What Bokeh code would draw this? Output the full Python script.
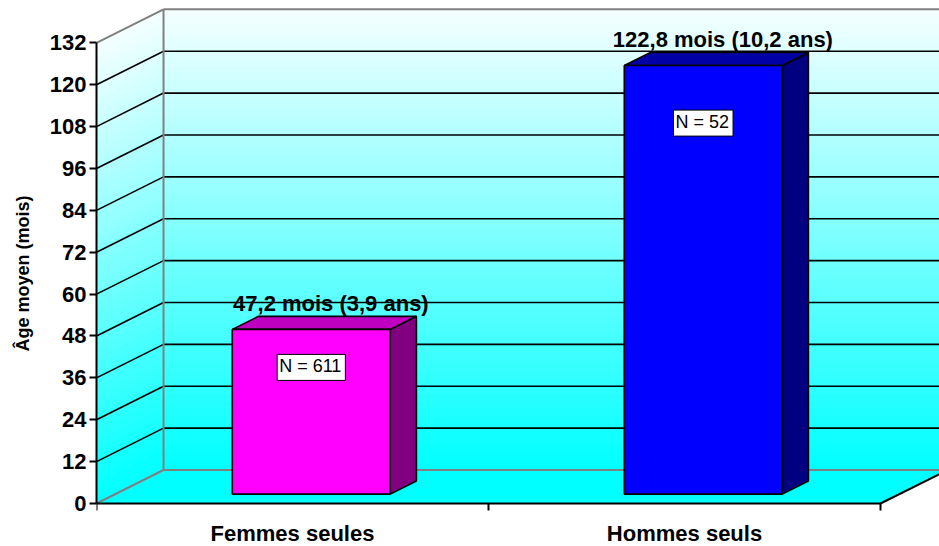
import numpy as np
from bokeh.plotting import figure
from bokeh.models import Range1d, FixedTicker, ColumnDataSource
from bokeh.embed import file_html
from bokeh.resources import INLINE
from bokeh.core.properties import value

# ---------------- data ----------------
categories = ["Femmes seules", "Hommes seuls"]
ages = [47.2, 122.8]
value_labels = ["47,2 mois (3,9 ans)", "122,8 mois (10,2 ans)"]
n_labels = ["N = 611", "N = 52"]
y_ticks = [0, 12, 24, 36, 48, 60, 72, 84, 96, 108, 120, 132]
y_title = "Âge moyen (mois)"

# ---------------- style / layout ----------------
front_colors = ["#FF00FF", "#0000FF"]
side_colors = ["#800080", "#000080"]
top_colors = ["#C000C0", "#0000A6"]
FONT = "Liberation Sans"
DX, DY = 0.171, 9.6          # 3D depth of the walls (category units, value units)
F0, BD, BW = 0.28, 0.39, 0.403  # bar depth position, bar depth, bar width
X_START, X_END = 0.0, 2.1505
Y_START, Y_END = -12.32, 144.13
N_LABEL_Y = [39.0, 109.0]
TICK_LEN = 2.0
GRAY = "#808080"

ncat = len(categories)
y_top = y_ticks[-1]
x_far = X_END + 1.0

p = figure(width=939, height=546,
           x_range=Range1d(X_START, X_END), y_range=Range1d(Y_START, Y_END),
           output_backend="svg", toolbar_location=None, x_axis_location=None,
           min_border_left=96, min_border_right=0, min_border_top=0, min_border_bottom=0)
p.grid.visible = False
p.outline_line_color = None
p.background_fill_color = "white"
p.border_fill_color = "white"

# ---------------- walls with gradient ----------------
levels = np.linspace(0, y_top, 67)
lo, hi = levels[:-1], levels[1:]
tt = (lo + hi) / 2 / y_top
grad_colors = ["#%02xffff" % int(round(245 * t)) for t in tt]

p.quad(left=DX, right=x_far, bottom=lo + DY, top=hi + DY,
       fill_color=grad_colors, line_color=grad_colors, line_width=1)
p.patches(xs=[[0, 0, DX, DX] for _ in lo],
          ys=[[a, b, b + DY, a + DY] for a, b in zip(lo, hi)],
          fill_color=grad_colors, line_color=grad_colors, line_width=1)

# floor
p.patch(x=[0, ncat, ncat + DX, DX], y=[0, 0, DY, DY], fill_color="#00FFFF", line_color=None)

# gridlines on back and side walls
inner = y_ticks[1:-1]
p.segment(x0=[DX] * len(inner), y0=[v + DY for v in inner], x1=[x_far] * len(inner),
          y1=[v + DY for v in inner], line_color="black", line_width=1.6)
p.segment(x0=[0] * len(inner), y0=inner, x1=[DX] * len(inner),
          y1=[v + DY for v in inner], line_color="black", line_width=1.6)

# gray wall edges
edges = [y_ticks[0], y_top]
p.segment(x0=[DX, DX], y0=[e + DY for e in edges], x1=[x_far, x_far], y1=[e + DY for e in edges],
          line_color=GRAY, line_width=2)
p.segment(x0=[0, 0], y0=edges, x1=[DX, DX], y1=[e + DY for e in edges],
          line_color=GRAY, line_width=2)
p.segment(x0=[DX], y0=[DY], x1=[DX], y1=[y_top + DY], line_color=GRAY, line_width=2)

# floor front and right edges
p.line(x=[0, ncat, ncat + DX], y=[0, 0, DY], line_color="black", line_width=2)

# category ticks below the floor
bounds = list(range(ncat + 1))
p.segment(x0=bounds, y0=[0] * len(bounds), x1=bounds, y1=[-TICK_LEN] * len(bounds),
          line_color="black", line_width=2)

# category labels
centers = [i + 0.5 for i in range(ncat)]
p.text(x=centers, y=[0] * ncat, text=categories, y_offset=30,
       text_align="center", text_baseline="alphabetic",
       text_font=value(FONT), text_font_style="bold", text_font_size="22px", text_color="black")

# ---------------- 3D bars ----------------
xl = [c - BW / 2 + F0 * DX for c in centers]
xr = [x + BW for x in xl]
y0 = [F0 * DY] * ncat
y1 = [F0 * DY + a for a in ages]
ddx, ddy = BD * DX, BD * DY

side_src = ColumnDataSource(dict(
    xs=[[r, r, r + ddx, r + ddx] for r in xr],
    ys=[[b, t, t + ddy, b + ddy] for b, t in zip(y0, y1)],
    color=side_colors))
top_src = ColumnDataSource(dict(
    xs=[[l, r, r + ddx, l + ddx] for l, r in zip(xl, xr)],
    ys=[[t, t, t + ddy, t + ddy] for t in y1],
    color=top_colors))
p.patches(xs="xs", ys="ys", fill_color="color", line_color="black", line_width=1.6, source=side_src)
p.patches(xs="xs", ys="ys", fill_color="color", line_color="black", line_width=1.6, source=top_src)
p.quad(left=xl, right=xr, bottom=y0, top=y1, fill_color=front_colors,
       line_color="black", line_width=1.6)

# value labels above bars
p.text(x=[l + BW / 2 + 0.75 * ddx for l in xl], y=[t + ddy for t in y1], text=value_labels,
       y_offset=-13, text_align="center", text_baseline="alphabetic",
       text_font=value(FONT), text_font_style="bold", text_font_size="22px", text_color="black")

# N labels in boxes
p.text(x=[l + BW / 2 for l in xl], y=N_LABEL_Y, text=n_labels,
       text_align="center", text_baseline="middle",
       text_font=value(FONT), text_font_size="18px", text_color="black",
       background_fill_color="white", border_line_color="black", border_line_width=1,
       padding=(2, 4, 2, 4))

# ---------------- y axis ----------------
ax = p.yaxis[0]
ax.ticker = FixedTicker(ticks=y_ticks)
ax.bounds = (y_ticks[0], y_top)
ax.axis_line_color = "black"
ax.axis_line_width = 2
ax.major_tick_out = 7
ax.major_tick_in = 0
ax.major_tick_line_width = 2
ax.minor_tick_line_color = None
ax.major_label_standoff = 3
ax.major_label_text_font = FONT
ax.major_label_text_font_style = "bold"
ax.major_label_text_font_size = "22px"
ax.major_label_text_color = "black"
ax.axis_label = y_title
ax.axis_label_text_font = FONT
ax.axis_label_text_font_style = "bold"
ax.axis_label_text_font_size = "18px"
ax.axis_label_text_color = "black"
ax.axis_label_standoff = 14

open("out.html", "w").write(file_html(p, INLINE))
